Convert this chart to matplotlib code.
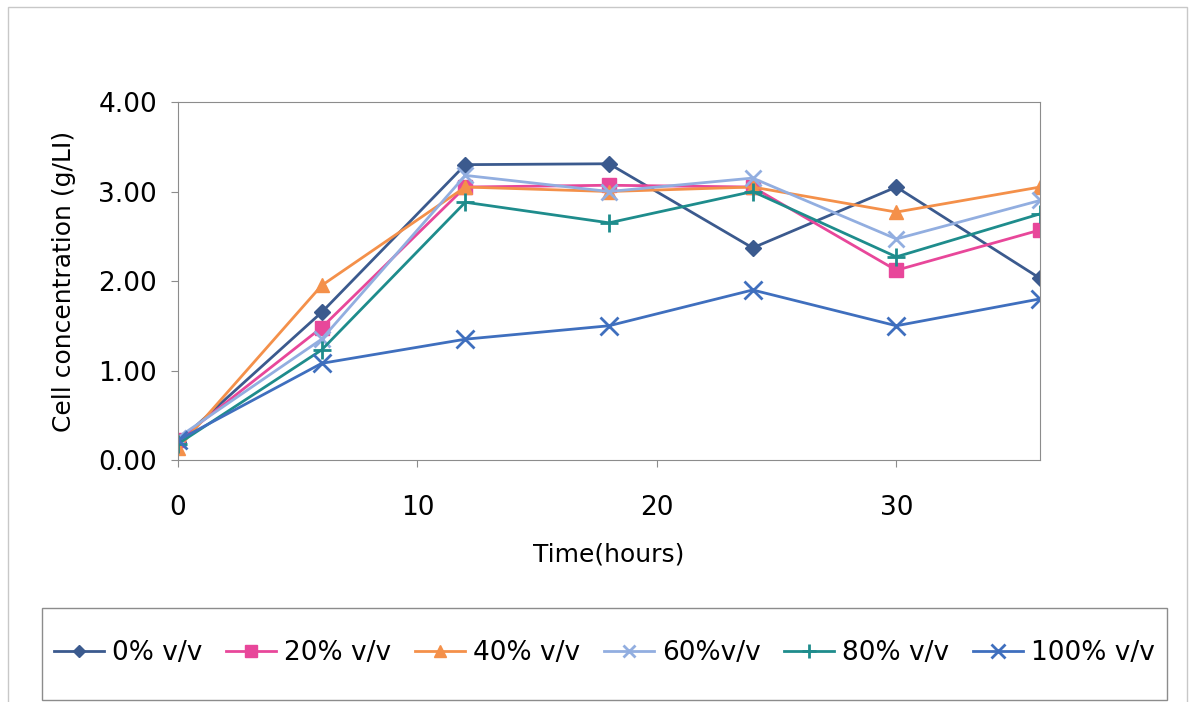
import matplotlib.pyplot as plt
from matplotlib.patches import Rectangle

# time points (hours)
time = [0, 6, 12, 18, 24, 30, 36]

# cell concentration (g/L) for each methanol fraction
c0 = [0.20, 1.65, 3.30, 3.31, 2.37, 3.05, 2.03]
c20 = [0.22, 1.48, 3.05, 3.07, 3.05, 2.12, 2.57]
c40 = [0.13, 1.95, 3.05, 3.00, 3.05, 2.77, 3.05]
c60 = [0.25, 1.35, 3.18, 3.00, 3.15, 2.47, 2.90]
c80 = [0.18, 1.23, 2.88, 2.65, 3.00, 2.27, 2.75]
c100 = [0.22, 1.08, 1.35, 1.50, 1.90, 1.50, 1.80]

labels = ['0% v/v', '20% v/v', '40% v/v', '60%v/v', '80% v/v', '100% v/v']
series = [c0, c20, c40, c60, c80, c100]
colors = ['#3b5a8e', '#e8479a', '#f4904a', '#92aee0', '#1e8c8c', '#3f6fbe']
markers = ['D', 's', '^', 'x', '+', 'x']
msizes = [8, 10, 10, 11, 13, 13]

fig = plt.figure(figsize=(11.92, 7.02), dpi=100)
ax = fig.add_axes([0.1493, 0.3447, 0.7232, 0.51])

for y, lab, col, m, ms in zip(series, labels, colors, markers, msizes):
    ax.plot(time, y, color=col, marker=m, markersize=ms, linewidth=2,
            markeredgewidth=2 if m in ('x', '+') else 1, label=lab)

ax.set_xlim(0, 36)
ax.set_ylim(0, 4)
ax.set_xticks([0, 10, 20, 30])
ax.set_yticks([0, 1, 2, 3, 4])
ax.set_yticklabels(['%.2f' % v for v in [0, 1, 2, 3, 4]])
for s in ax.spines.values():
    s.set_color('#8c8c8c')
ax.tick_params(axis='both', labelsize=19, colors='#8c8c8c', labelcolor='black', length=5)
ax.tick_params(axis='x', pad=20)
ax.tick_params(axis='y', pad=10)
ax.set_xlabel('Time(hours)', fontsize=18, labelpad=16)
ax.set_ylabel('Cell concentration (g/LI)', fontsize=18, labelpad=16)

# outer chart border and legend box
fig.patches.append(Rectangle((0.0067, -0.01), 0.989, 1.0, transform=fig.transFigure,
                             fill=False, edgecolor='#c8c8c8', linewidth=1))
fig.patches.append(Rectangle((0.035, 0.003), 0.944, 0.131, transform=fig.transFigure,
                             fill=False, edgecolor='#8c8c8c', linewidth=1))
handles, labs = ax.get_legend_handles_labels()
fig.legend(handles, labs, loc='center', bbox_to_anchor=(0.507, 0.07), ncol=6,
           frameon=False, fontsize=19, handlelength=1.9, handletextpad=0.3,
           columnspacing=0.9, markerscale=0.8)

plt.savefig('out.png', dpi=100)
